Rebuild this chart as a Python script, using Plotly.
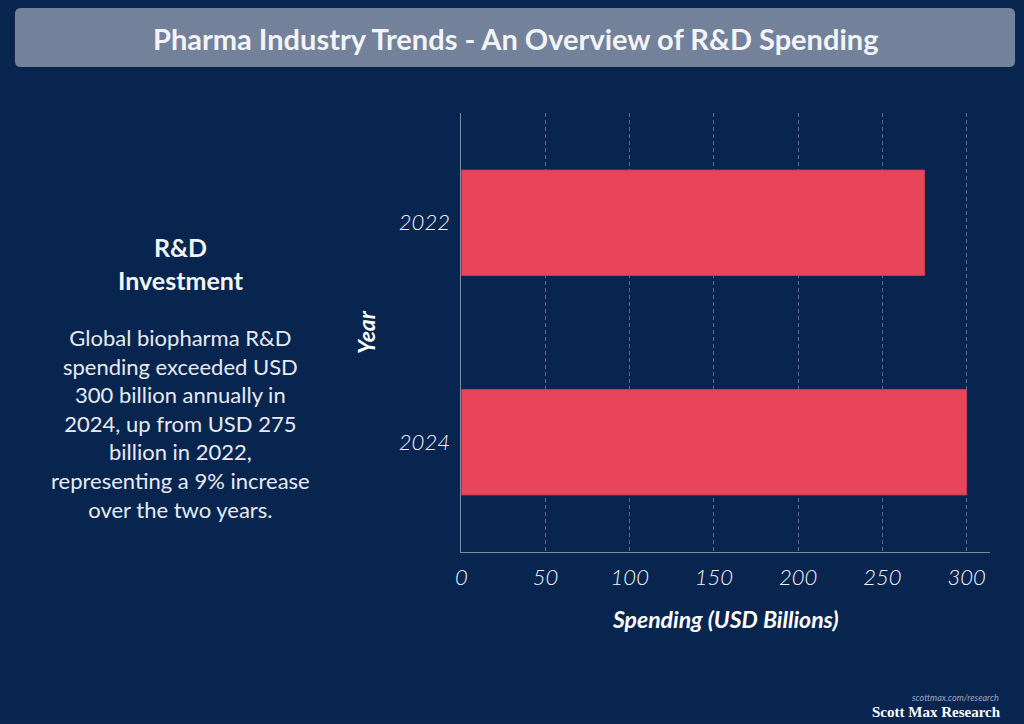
import plotly.graph_objects as go

# Données
years = ["2022", "2024"]
spending = [275, 300]

W, H = 1024, 724
BG = "#08254f"
BAR = "#e8445a"
TXT = "#e6ebf3"


def px(x):
    return x / W


def py(y):
    return 1 - y / H


def rounded_rect(x0, y0, x1, y1, r):
    # chemin SVG en coordonnées papier, coins arrondis
    rx, ry = r / W, r / H
    a, b, c, d = px(x0), py(y1), px(x1), py(y0)
    return (f"M {a + rx},{b} L {c - rx},{b} Q {c},{b} {c},{b + ry} "
            f"L {c},{d - ry} Q {c},{d} {c - rx},{d} L {a + rx},{d} "
            f"Q {a},{d} {a},{d - ry} L {a},{b + ry} Q {a},{b} {a + rx},{b} Z")


fig = go.Figure()
fig.add_trace(
    go.Bar(
        x=spending,
        y=years,
        orientation="h",
        width=0.48,
        marker=dict(color=BAR, line=dict(color="#c93a50", width=1)),
        hovertemplate="%{y}: %{x} B USD<extra></extra>",
    )
)

fig.update_layout(
    width=W,
    height=H,
    margin=dict(l=0, r=0, t=0, b=0),
    paper_bgcolor=BG,
    plot_bgcolor=BG,
    font=dict(family="Lato, Open Sans, sans-serif", color=TXT),
    showlegend=False,
    xaxis=dict(
        domain=[px(458), px(990)],
        range=[0, 314],
        tickvals=[0, 50, 100, 150, 200, 250, 300],
        tickfont=dict(size=22, style="italic", weight=300, color="#f3f5fa"),
        showgrid=True,
        gridcolor="#566b8f",
        griddash="4px,3px",
        gridwidth=1,
        showline=True,
        linecolor="#7c8aa3",
        linewidth=1,
        zeroline=False,
        ticks="outside",
        ticklen=6,
        tickcolor=BG,
        title=dict(
            text="<b><i>Spending (USD Billions)</i></b>",
            font=dict(size=23, color="white"),
            standoff=22,
        ),
    ),
    yaxis=dict(
        domain=[py(552), py(113)],
        autorange="reversed",
        tickfont=dict(size=22, style="italic", weight=300, color="#f3f5fa"),
        showgrid=False,
        showline=True,
        linecolor="#7c8aa3",
        linewidth=1,
        ticks="outside",
        ticklen=6,
        tickcolor=BG,
        title=dict(
            text="<b><i>Year</i></b>",
            font=dict(size=23, color="white"),
            standoff=16,
        ),
    ),
)

# Bandeau du titre
fig.add_shape(
    type="path", xref="paper", yref="paper",
    path=rounded_rect(9, 8, 1015, 67, 6),
    fillcolor="#73819a", line=dict(width=0), layer="below",
)
fig.add_annotation(
    text="<b>Pharma Industry Trends - An Overview of R&D Spending</b>",
    xref="paper", yref="paper", x=0.5, y=py(38),
    xanchor="center", yanchor="middle",
    showarrow=False, font=dict(size=29, color="#f2f4f8"),
)

# Texte explicatif à gauche
fig.add_annotation(
    text="<b>R&D<br>Investment</b>",
    xref="paper", yref="paper", x=px(176), y=py(264),
    xanchor="center", yanchor="middle",
    showarrow=False, font=dict(size=25, color="#f2f4f8"), align="center",
)
fig.add_annotation(
    text=("Global biopharma R&D<br>spending exceeded USD<br>300 billion annually in"
          "<br>2024, up from USD 275<br>billion in 2022,<br>representing a 9% increase"
          "<br>over the two years."),
    xref="paper", yref="paper", x=px(176), y=py(424),
    xanchor="center", yanchor="middle",
    showarrow=False, font=dict(size=22, color=TXT), align="center",
)

# Signature
fig.add_annotation(
    text="<i>scottmax.com/research</i>",
    xref="paper", yref="paper", x=px(1001), y=py(697),
    xanchor="right", yanchor="middle", showarrow=False,
    font=dict(size=9, color="#9aa6ba"),
)
fig.add_annotation(
    text="<b>Scott Max Research</b>",
    xref="paper", yref="paper", x=px(1003), y=py(712),
    xanchor="right", yanchor="middle", showarrow=False,
    font=dict(size=15, color="white", family="Liberation Serif, DejaVu Serif, serif"),
)

fig.write_html(
    "out.html",
    config={"displayModeBar": False},
    post_script="document.body.style.margin='0';",
)
